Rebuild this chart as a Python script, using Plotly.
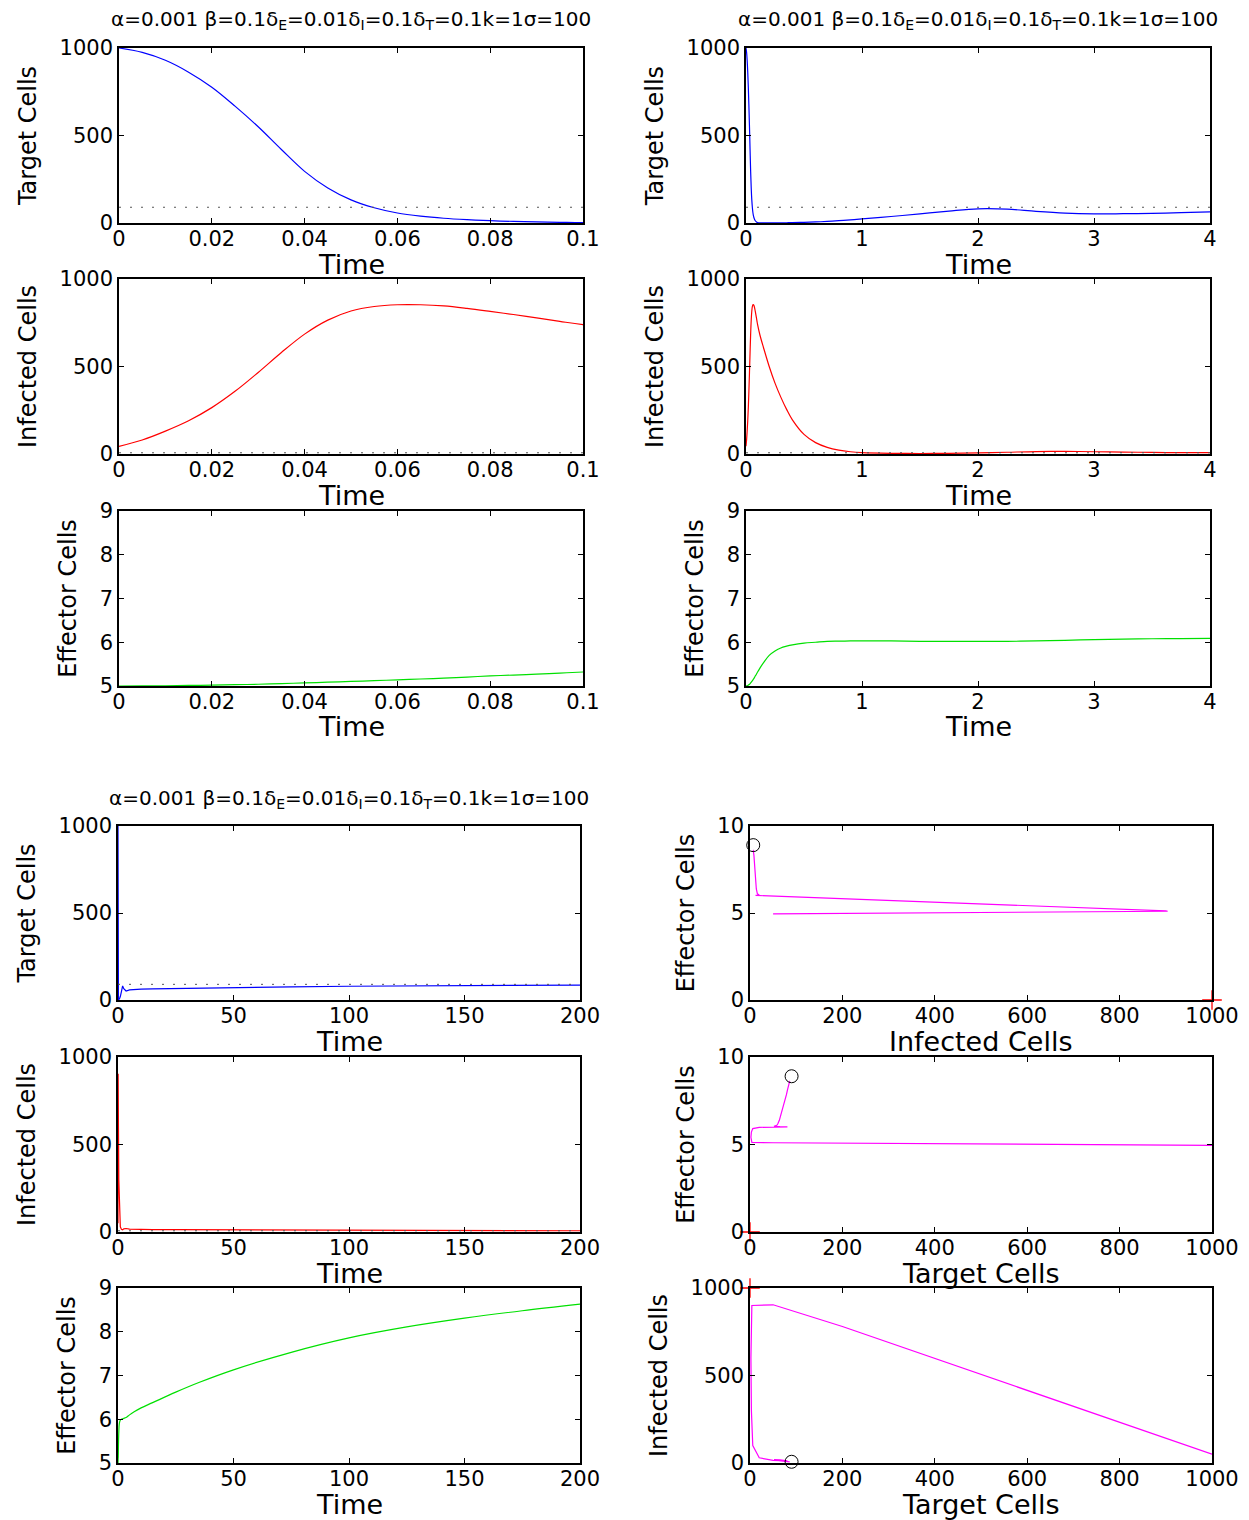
import plotly.graph_objects as go

# ---------------- data: short simulation (top panels) ----------------
t_a = [0, 0.005, 0.01, 0.015, 0.02, 0.025, 0.03, 0.035, 0.04, 0.045, 0.05, 0.055, 0.06, 0.065, 0.07,
       0.075, 0.08, 0.085, 0.09, 0.095, 0.1, 0.12, 0.15, 0.2, 0.25, 0.3, 0.35, 0.4, 0.5, 0.6, 0.7, 0.8,
       0.9, 1.0, 1.25, 1.5, 1.75, 2.0, 2.25, 2.5, 2.75, 3.0, 3.25, 3.5, 3.75, 4.0]
T_a = [1000, 975, 930, 862, 776, 668, 550, 420, 295, 200, 132, 87, 57, 39, 27,
       19, 13, 9, 6, 4, 2, 1.5, 1, 0.5, 0.5, 1, 1.5, 2, 4, 6, 9, 13,
       18, 23, 37, 52, 68, 81, 79, 66, 56, 52, 53, 55, 59, 63]
I_a = [44, 80, 131, 190, 265, 358, 466, 580, 685, 765, 817, 843, 853, 853, 846,
       832, 815, 797, 778, 758, 739, 680, 610, 500, 405, 325, 255, 195, 112, 65, 38, 22,
       13, 8, 4, 3, 4, 6, 10, 14, 15, 13, 11, 9, 8, 8]
E_a = [5.0, 5.001, 5.005, 5.012, 5.02, 5.03, 5.04, 5.055, 5.07, 5.087, 5.105, 5.122, 5.14, 5.16, 5.18,
       5.205, 5.23, 5.25, 5.27, 5.295, 5.32, 5.41, 5.53, 5.70, 5.80, 5.87, 5.91, 5.94, 5.98, 6.0, 6.02, 6.025,
       6.03, 6.03, 6.03, 6.02, 6.02, 6.02, 6.02, 6.03, 6.045, 6.06, 6.07, 6.08, 6.085, 6.09]

# ---------------- data: long simulation (bottom panels) ----------------
t_b = [0, 0.03, 0.06, 0.1, 0.2, 0.35, 0.6, 1.0, 1.5, 2.0, 2.5, 3.5, 5, 7, 10, 15, 25, 35, 50, 75,
       100, 125, 150, 175, 200]
T_b = [1000, 200, 50, 4, 2, 3, 6, 20, 50, 81, 65, 52, 58, 60, 62, 63.5, 66, 68.5, 72, 76,
       79, 81, 83, 84.5, 86]
I_b = [50, 780, 904, 900, 600, 300, 100, 30, 15, 12, 18, 20, 16, 15, 14, 13.7, 13, 12.6, 12, 11,
       10, 9.2, 8.5, 7.7, 7]
E_b = [4.95, 5.05, 5.1, 5.12, 5.41, 5.71, 5.91, 5.98, 6.0, 6.01, 6.02, 6.04, 6.1, 6.17, 6.26, 6.38, 6.62, 6.84, 7.13, 7.53,
       7.86, 8.11, 8.31, 8.48, 8.63]

# equilibrium (circle / dotted) and the red '+' point
eq_T, eq_I, eq_E = 90, 7, 8.9
pt_T, pt_I, pt_E = 0, 1000, 0

title_text = "α=0.001 β=0.1δ<sub>E</sub>=0.01δ<sub>I</sub>=0.1δ<sub>T</sub>=0.1k=1σ=100"

# ---------------- layout helpers ----------------
# the page body has an 8px margin, so the figure is offset by 8px
OFF = 8
W, H = 1249 - OFF, 1520 - OFF
FONT = "DejaVu Sans"

def px_x(a):
    return (a - OFF) / W

def px_y(b):
    return 1 - (b - OFF) / H

def dx(a, b):
    return [px_x(a), px_x(b)]

def dy(top, bot):
    return [px_y(bot), px_y(top)]

BLUE, RED, GREEN, MAG = "#0000ff", "#ff0000", "#00e000", "#ff00ff"

t01 = [0, 0.02, 0.04, 0.06, 0.08, 0.1]
t01_txt = ["0", "0.02", "0.04", "0.06", "0.08", "0.1"]
t4 = [0, 1, 2, 3, 4]
t200 = [0, 50, 100, 150, 200]
c1000 = [0, 200, 400, 600, 800, 1000]
y1000 = [0, 500, 1000]
y59 = [5, 6, 7, 8, 9]
y10 = [0, 5, 10]

rows_top = [(48, 223), (279, 454), (511, 686)]
rows_bot = [(826, 1000), (1057, 1232), (1288, 1463)]
xtitle_y_top = [263, 494, 726]
xtitle_y_bot = [1040, 1272, 1503]

panels = [
    (t_a, T_a, BLUE, "spline", (119, 583), rows_top[0], [0, 0.1], t01, t01_txt, [0, 1000], y1000, "Time", "Target Cells", xtitle_y_top[0]),
    (t_a, I_a, RED, "spline", (119, 583), rows_top[1], [0, 0.1], t01, t01_txt, [0, 1000], y1000, "Time", "Infected Cells", xtitle_y_top[1]),
    (t_a, E_a, GREEN, "spline", (119, 583), rows_top[2], [0, 0.1], t01, t01_txt, [5, 9], y59, "Time", "Effector Cells", xtitle_y_top[2]),
    (t_a, T_a, BLUE, "spline", (746, 1210), rows_top[0], [0, 4], t4, None, [0, 1000], y1000, "Time", "Target Cells", xtitle_y_top[0]),
    (t_a, I_a, RED, "spline", (746, 1210), rows_top[1], [0, 4], t4, None, [0, 1000], y1000, "Time", "Infected Cells", xtitle_y_top[1]),
    (t_a, E_a, GREEN, "spline", (746, 1210), rows_top[2], [0, 4], t4, None, [5, 9], y59, "Time", "Effector Cells", xtitle_y_top[2]),
    (t_b, T_b, BLUE, "linear", (118, 580), rows_bot[0], [0, 200], t200, None, [0, 1000], y1000, "Time", "Target Cells", xtitle_y_bot[0]),
    (t_b, I_b, RED, "linear", (118, 580), rows_bot[1], [0, 200], t200, None, [0, 1000], y1000, "Time", "Infected Cells", xtitle_y_bot[1]),
    (t_b, E_b, GREEN, "spline", (118, 580), rows_bot[2], [0, 200], t200, None, [5, 9], y59, "Time", "Effector Cells", xtitle_y_bot[2]),
    (I_b, E_b, MAG, "linear", (750, 1212), rows_bot[0], [0, 1000], c1000, None, [0, 10], y10, "Infected Cells", "Effector Cells", xtitle_y_bot[0]),
    (T_b, E_b, MAG, "linear", (750, 1212), rows_bot[1], [0, 1000], c1000, None, [0, 10], y10, "Target Cells", "Effector Cells", xtitle_y_bot[1]),
    (T_b, I_b, MAG, "linear", (750, 1212), rows_bot[2], [0, 1000], c1000, None, [0, 1000], y1000, "Target Cells", "Infected Cells", xtitle_y_bot[2]),
]

fig = go.Figure()
layout = dict(
    width=W, height=H, margin=dict(l=0, r=0, t=0, b=0, autoexpand=False),
    paper_bgcolor="white", plot_bgcolor="white", showlegend=False,
    font=dict(family=FONT, color="black"),
)
annotations = []

for k, (xd, yd, col, shape, xdom, ydom, xr, xt, xtt, yr, yt, xtitle, ytitle, xty) in enumerate(panels, start=1):
    xa = "x" if k == 1 else f"x{k}"
    ya = "y" if k == 1 else f"y{k}"
    line = dict(color=col, width=1.2, shape=shape)
    if shape == "spline":
        line["smoothing"] = 1.0
    fig.add_trace(go.Scatter(x=xd, y=yd, mode="lines", line=line,
                             xaxis=xa, yaxis=ya, hoverinfo="skip"))
    axis_common = dict(ticks="inside", ticklen=5, tickcolor="black", tickwidth=1, mirror="ticks",
                       showline=True, linecolor="black", linewidth=1.5, showgrid=False, zeroline=False,
                       automargin=False,
                       tickfont=dict(size=21, family=FONT, color="black"))
    xaxis = dict(axis_common, domain=dx(*xdom), range=xr, tickvals=xt, anchor=ya, ticklabelstandoff=-4)
    if xtt is not None:
        xaxis["ticktext"] = xtt
    yaxis = dict(axis_common, domain=dy(*ydom), range=yr, tickvals=yt, anchor=xa,
                 title=dict(text=ytitle, font=dict(size=24, family=FONT), standoff=16))
    layout["xaxis" if k == 1 else f"xaxis{k}"] = xaxis
    layout["yaxis" if k == 1 else f"yaxis{k}"] = yaxis

    # x-axis title as an annotation centred under the panel
    annotations.append(dict(text=xtitle, x=px_x((xdom[0] + xdom[1]) / 2), y=px_y(xty + 1),
                            xref="paper", yref="paper", showarrow=False,
                            font=dict(size=27, family=FONT, color="black"),
                            xanchor="center", yanchor="middle"))

    # dotted equilibrium lines in time panels
    if xtitle == "Time" and ytitle in ("Target Cells", "Infected Cells"):
        tt = t_a if k < 7 else t_b
        lvl = eq_T if ytitle == "Target Cells" else eq_I
        fig.add_trace(go.Scatter(x=[tt[0], tt[-1]], y=[lvl, lvl], mode="lines",
                                 line=dict(color="#555555", width=1, dash="2px,9px"),
                                 xaxis=xa, yaxis=ya, hoverinfo="skip"))

# markers in the phase plots
phase = {10: (pt_I, pt_E, eq_I, eq_E), 11: (pt_T, pt_E, eq_T, eq_E), 12: (pt_T, pt_I, eq_T, eq_I)}
for k, (px, py, ex, ey) in phase.items():
    fig.add_trace(go.Scatter(x=[px], y=[py], mode="markers", cliponaxis=False,
                             marker=dict(symbol="cross-thin", size=14, line=dict(color=RED, width=1.3)),
                             xaxis=f"x{k}", yaxis=f"y{k}", hoverinfo="skip"))
    fig.add_trace(go.Scatter(x=[ex], y=[ey], mode="markers", cliponaxis=False,
                             marker=dict(symbol="circle-open", size=13, color="black", line=dict(color="black", width=1)),
                             xaxis=f"x{k}", yaxis=f"y{k}", hoverinfo="skip"))

ann_font = dict(size=20, family=FONT, color="black")
for cx, cy in [(351, 20), (978, 20), (349, 799)]:
    annotations.append(dict(text=title_text, x=px_x(cx), y=px_y(cy), xref="paper", yref="paper",
                            showarrow=False, font=ann_font, xanchor="center", yanchor="middle"))

layout["annotations"] = annotations
fig.update_layout(**layout)
fig.write_html("out.html")
